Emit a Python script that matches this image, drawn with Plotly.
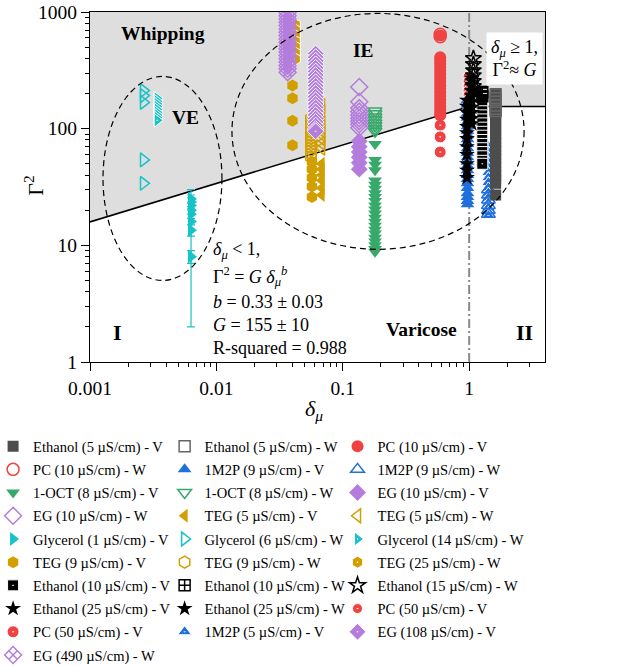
import plotly.graph_objects as go

# Power-law fit for delta_mu < 1:  Gamma^2 = G * delta_mu^b
G_FIT = 155
B_FIT = 0.33
B_ERR = 0.03
G_ERR = 10
R_SQUARED = 0.988

# Axis ticks
x_tick_vals = [0.001, 0.01, 0.1, 1]
x_tick_text = ["0.001", "0.01", "0.1", "1"]
y_tick_vals = [1, 10, 100, 1000]
y_tick_text = ["1", "10", "100", "1000"]

# Measured columns: delta_mu (x) and Gamma^2 (y) for each liquid / regime
eth5_v_x = 1.62
eth5_v_y = [200, 186, 173, 161, 150, 139, 129, 120, 111, 103, 96, 89, 82, 76, 70,
            65, 60, 55, 51, 47, 43, 40, 37, 34, 27]
eth5_w_x = 1.62
eth5_w_y = [196, 182, 170, 158, 148, 142]

pc10_v_x = 0.59
pc10_v_y = [630, 410, 385, 360, 336, 313, 292, 272, 253, 236, 220, 205, 191, 178,
            166, 155, 145, 136, 130]
pc10_w_x = 0.59
pc10_w_y = [645, 615]

m1p9_v_x = 0.97
m1p9_v_y = [175, 160, 147, 135, 124, 114, 105, 96, 88, 81, 74, 68, 62, 57, 52, 48,
            44, 40, 37, 34, 31, 28, 26, 24, 22.5]
m1p9_w_x = 1.42
m1p9_w_y = [30, 27, 24.5, 22, 20, 18.5]

oct8_v_x = 0.18
oct8_v_y = [74, 54, 49, 44, 36, 33, 30.5, 28, 26, 24, 22, 20.3, 18.7, 17.2, 15.9,
            14.7, 13.6, 12.6, 11.6, 10.8, 10, 9.3, 8.8]
oct8_w_x = 0.18
oct8_w_y = [142, 134, 126, 119, 112, 106, 100, 95]

eg10_v_x = 0.135
eg10_v_y = [78, 70, 63, 57, 51, 45]
eg10_w_x = 0.135
eg10_w_y = [228, 170, 150, 140, 131, 123, 116, 109, 102]

teg5_v_x = 0.068
teg5_v_y = [50, 45, 40, 36, 31, 27]
teg5_w_x = 0.068
teg5_w_y = [158, 140, 112, 104, 96, 89, 82, 75, 68]

gly1_v_x = 0.0063
gly1_v_y = [25, 23.5, 22, 20, 18.5, 16, 13.5, 8]
gly1_v_err = [2, 2, 1.5, 1.5, 1.5, 14, 1.5, 1]
gly6_w_x = 0.00265
gly6_w_y = [212, 192, 168, 54, 34]
gly14_w_x = 0.0034
gly14_w_y = [182, 172, 163, 154, 146, 138, 131, 124, 118]

teg9_v_x = [0.040, 0.040, 0.040, 0.040, 0.057, 0.057, 0.057, 0.057, 0.057]
teg9_v_y = [235, 182, 117, 72, 52, 45, 38, 32, 26]
teg9_w_x = 0.056
teg9_w_y = [122, 114, 107, 100, 94, 88, 83, 78, 73, 69, 65, 61, 57]
teg25_w_x = 0.042
teg25_w_y = [780, 700, 625, 560, 500, 445, 395]

eth10_v_x = 1.27
eth10_v_y = [212, 195, 180, 166, 153, 141, 130, 120, 111, 102, 94, 87, 80, 74, 68,
             63, 58, 53, 50]
eth10_w_x = 1.27
eth10_w_y = [205, 190]
eth15_w_x = 1.08
eth15_w_y = [400, 355, 315, 285, 255, 230, 208, 190]
eth25_v_x = 0.96
eth25_v_y = [175, 155, 138, 120, 104, 92, 82, 70, 60, 50, 44, 38]
eth25_w_x = 1.05
eth25_w_y = [270, 240, 212, 190, 170, 152, 137, 122, 110]

pc50_v_a_x = 0.98
pc50_v_a_y = [280, 255, 232, 212, 194, 178, 163, 150, 138, 127, 117, 107, 98, 90, 82]
pc50_v_b_x = 0.59
pc50_v_b_y = [107, 85, 63]

m1p5_v_x = 1.42
m1p5_v_y = [70, 63, 57, 51.5, 46.5, 42, 38, 34.5, 31, 28, 25.5, 23, 21, 19.2, 18]

eg108_v_x = 0.061
eg108_v_y = [440, 410, 382, 356, 332, 309, 288, 268, 250, 233, 217, 202, 188, 175,
             163, 152, 141, 131, 122, 114, 106, 99, 95]
eg490_w_x = 0.0366
eg490_w_y = [990, 930, 870, 815, 765, 715, 670, 628, 588, 551, 516, 484, 453, 424,
             397, 372, 348, 326, 305]

# Colours
GREY = "#4d4d4d"
RED = "#ef4343"
BLUE = "#1f6fdc"
GREEN = "#37a96a"
LAVENDER = "#b47ddd"
GOLD = "#d29f00"
CYAN = "#18c3c8"
BLACK = "#000000"

SERIF = "Liberation Serif, Times New Roman, serif"

# Legend entries (row-major order of the legend) with marker style.
# Half-filled markers use a filled "-dot" symbol with a white outline.
series = [
    ("Ethanol (5 µS/cm) - V", eth5_v_x, eth5_v_y, "square", GREY, 11),
    ("Ethanol (5 µS/cm) - W", eth5_w_x, eth5_w_y, "square-open", "#666666", 11),
    ("PC (10 µS/cm) - V", pc10_v_x, pc10_v_y, "circle", RED, 12),
    ("PC (10 µS/cm) - W", pc10_w_x, pc10_w_y, "circle-open", RED, 12),
    ("1M2P (9 µS/cm) - V", m1p9_v_x, m1p9_v_y, "triangle-up", BLUE, 12),
    ("1M2P (9 µS/cm) - W", m1p9_w_x, m1p9_w_y, "triangle-up-open", BLUE, 12),
    ("1-OCT (8 µS/cm) - V", oct8_v_x, oct8_v_y, "triangle-down", GREEN, 12),
    ("1-OCT (8 µS/cm) - W", oct8_w_x, oct8_w_y, "triangle-down-open", GREEN, 12),
    ("EG (10 µS/cm) - V", eg10_v_x, eg10_v_y, "diamond", LAVENDER, 13),
    ("EG (10 µS/cm) - W", eg10_w_x, eg10_w_y, "diamond-open", LAVENDER, 13),
    ("TEG (5 µS/cm) - V", teg5_v_x, teg5_v_y, "triangle-left", GOLD, 12),
    ("TEG (5 µS/cm) - W", teg5_w_x, teg5_w_y, "triangle-left-open", GOLD, 12),
    ("Glycerol (1 µS/cm) - V", gly1_v_x, gly1_v_y, "triangle-right", CYAN, 12),
    ("Glycerol (6 µS/cm) - W", gly6_w_x, gly6_w_y, "triangle-right-open", CYAN, 12),
    ("Glycerol (14 µS/cm) - W", gly14_w_x, gly14_w_y, "triangle-right-dot", CYAN, 12),
    ("TEG (9 µS/cm) - V", teg9_v_x, teg9_v_y, "hexagon", GOLD, 12),
    ("TEG (9 µS/cm) - W", teg9_w_x, teg9_w_y, "hexagon-open", GOLD, 12),
    ("TEG (25 µS/cm) - W", teg25_w_x, teg25_w_y, "hexagon-dot", GOLD, 12),
    ("Ethanol (10 µS/cm) - V", eth10_v_x, eth10_v_y, "square-dot", BLACK, 11),
    ("Ethanol (10 µS/cm) - W", eth10_w_x, eth10_w_y, "square-cross-open", BLACK, 11),
    ("Ethanol (15 µS/cm) - W", eth15_w_x, eth15_w_y, "star-open", BLACK, 12),
    ("Ethanol (25 µS/cm) - V", eth25_v_x, eth25_v_y, "star", BLACK, 12),
    ("Ethanol (25 µS/cm) - W", eth25_w_x, eth25_w_y, "star", BLACK, 12),
    ("PC (50 µS/cm) - V", pc50_v_a_x, pc50_v_a_y, "circle-dot", RED, 10),
    ("PC (50 µS/cm) - V", pc50_v_b_x, pc50_v_b_y, "circle-dot", RED, 12),
    ("1M2P (5 µS/cm) - V", m1p5_v_x, m1p5_v_y, "triangle-up-dot", BLUE, 12),
    ("EG (108 µS/cm) - V", eg108_v_x, eg108_v_y, "diamond-dot", LAVENDER, 13),
    ("EG (490 µS/cm) - W", eg490_w_x, eg490_w_y, "diamond-x-open", LAVENDER, 13),
]

# Drawing order (indices into `series`); legend order is kept through legendrank
draw_order = [23, 24, 2, 3, 25, 4, 5, 18, 19, 0, 1, 20, 21, 22,
              6, 7, 8, 9, 10, 11, 15, 16, 17, 26, 27, 12, 13, 14]

# Three legend columns, filled row by row
legend_ids = ["legend", "legend2", "legend3"]

fig = go.Figure()

# Whipping region: above the fit line (delta_mu < 1) and above G (delta_mu >= 1)
x_lo, x_hi = 0.001, 4.0
y_top = 1000
shade_x = [x_lo, 1, x_hi, x_hi, x_lo]
shade_y = [G_FIT * x_lo ** B_FIT, G_FIT, G_FIT, y_top, y_top]
fig.add_trace(go.Scatter(x=shade_x, y=shade_y, mode="lines", fill="toself",
                         fillcolor="#dedede", line=dict(width=0),
                         showlegend=False, hoverinfo="skip"))

# Fit line and its plateau at Gamma^2 = G
fig.add_trace(go.Scatter(x=[x_lo, 1, x_hi],
                         y=[G_FIT * x_lo ** B_FIT, G_FIT, G_FIT],
                         mode="lines", line=dict(color="black", width=1.6),
                         showlegend=False, hoverinfo="skip"))

# delta_mu = 1 boundary
fig.add_trace(go.Scatter(x=[1, 1], y=[1, y_top], mode="lines",
                         line=dict(color="#8a8a8a", width=2, dash="9px,3px,2px,3px"),
                         showlegend=False, hoverinfo="skip"))

for idx in draw_order:
    name, xv, yv, symbol, color, size = series[idx]
    xs = list(xv) if isinstance(xv, list) else [xv] * len(yv)
    if "open" in symbol:
        outline = dict(color=color, width=1.5)
    elif symbol.endswith("-dot"):
        outline = dict(color="white", width=1)
    else:
        outline = dict(color=color, width=0)
    kw = {}
    if yv is gly1_v_y:
        kw["error_y"] = dict(type="data", array=gly1_v_err, color=CYAN,
                             thickness=1.2, width=4)
    fig.add_trace(go.Scatter(
        x=xs, y=yv, mode="markers", name=name, legendrank=idx + 1,
        legend=legend_ids[idx % 3], legendgroup=f"g{idx}",
        marker=dict(symbol=symbol, size=size, color=color, line=outline),
        **kw))

# Dashed ellipses around the VE and IE groups
ellipse_line = dict(color="black", width=1.2, dash="6px,4px")
fig.add_shape(type="circle", xref="paper", yref="paper",
              x0=0.0286, x1=0.290, y0=0.233, y1=0.816, line=ellipse_line)
fig.add_shape(type="circle", xref="paper", yref="paper",
              x0=0.312, x1=0.954, y0=0.322, y1=0.996, line=ellipse_line)

bold = dict(family=SERIF, size=19.5, color="black")
annotations = [
    dict(x=0.160, y=0.94, text="<b>Whipping</b>", font=bold),
    dict(x=0.209, y=0.699, text="<b>VE</b>", font=bold),
    dict(x=0.602, y=0.891, text="<b>IE</b>", font=bold),
    dict(x=0.729, y=0.094, text="<b>Varicose</b>", font=bold),
    dict(x=0.060, y=0.085, text="<b>I</b>", font=dict(family=SERIF, size=22, color="black")),
    dict(x=0.954, y=0.085, text="<b>II</b>", font=dict(family=SERIF, size=22, color="black")),
]
txt = dict(family=SERIF, size=18, color="black")
fit_lines = [
    (0.318, "<i>δ</i><sub><i>μ</i></sub> &lt; 1,"),
    (0.243, "Γ<sup>2</sup> = <i>G</i> <i>δ</i><sub><i>μ</i></sub><sup><i>b</i></sup>"),
    (0.171, f"<i>b</i> = {B_FIT:.2f} ± {B_ERR:.2f}"),
    (0.105, f"<i>G</i> = {G_FIT} ± {G_ERR}"),
    (0.039, f"R-squared = {R_SQUARED:.3f}"),
]
for yy, t in fit_lines:
    annotations.append(dict(x=0.266, y=yy, text=t, font=txt, xanchor="left"))

annotations.append(dict(
    x=0.934, y=0.868, text="<i>δ</i><sub><i>μ</i></sub> ≥ 1,<br>Γ<sup>2</sup>≈ <i>G</i>",
    font=txt, bgcolor="white", borderpad=4, align="center"))

# Axis titles
annotations.append(dict(x=0.492, y=-0.138, text="<i>δ</i><sub><i>μ</i></sub>",
                        font=dict(family=SERIF, size=22, color="black")))
annotations.append(dict(x=-0.122, y=0.505, text="Γ<sup>2</sup>", textangle=-90,
                        font=dict(family=SERIF, size=22, color="black")))

for a in annotations:
    a.setdefault("xref", "paper")
    a.setdefault("yref", "paper")
    a.setdefault("xanchor", "center")
    a.setdefault("yanchor", "middle")
    a.setdefault("showarrow", False)
    fig.add_annotation(**a)

x_minor = [m * 10 ** e for e in range(-3, 1) for m in range(2, 10)] + [2, 3]
y_minor = [m * 10 ** e for e in range(0, 3) for m in range(2, 10)]

axis_common = dict(type="log", showgrid=False, zeroline=False, showline=True,
                   linecolor="black", linewidth=1.3, mirror=True, automargin=False,
                   ticks="outside", ticklen=8, tickwidth=1.3, tickcolor="black",
                   tickfont=dict(family=SERIF, size=19.5, color="black"))

fig.update_xaxes(range=[-3, 0.6], tickmode="array", tickvals=x_tick_vals,
                 ticktext=x_tick_text,
                 minor=dict(tickmode="array", tickvals=x_minor, ticks="outside",
                            ticklen=4, tickwidth=1, tickcolor="black"),
                 **axis_common)
fig.update_yaxes(range=[0, 3], tickmode="array", tickvals=y_tick_vals,
                 ticktext=y_tick_text,
                 minor=dict(tickmode="array", tickvals=y_minor, ticks="outside",
                            ticklen=4, tickwidth=1, tickcolor="black"),
                 **axis_common)

legend_style = dict(orientation="v", xref="paper", yref="container",
                    y=0.354, xanchor="left", yanchor="top",
                    traceorder="grouped", tracegroupgap=1.35,
                    font=dict(family=SERIF, size=14.5),
                    bgcolor="rgba(0,0,0,0)")
fig.update_layout(
    width=628, height=666,
    margin=dict(l=90, r=83, t=12, b=304, autoexpand=False),
    paper_bgcolor="white", plot_bgcolor="white",
    font=dict(family=SERIF, size=16, color="black"),
    legend=dict(x=-0.213, **legend_style),
    legend2=dict(x=0.164, **legend_style),
    legend3=dict(x=0.544, **legend_style),
)

fig.write_html("out.html")
